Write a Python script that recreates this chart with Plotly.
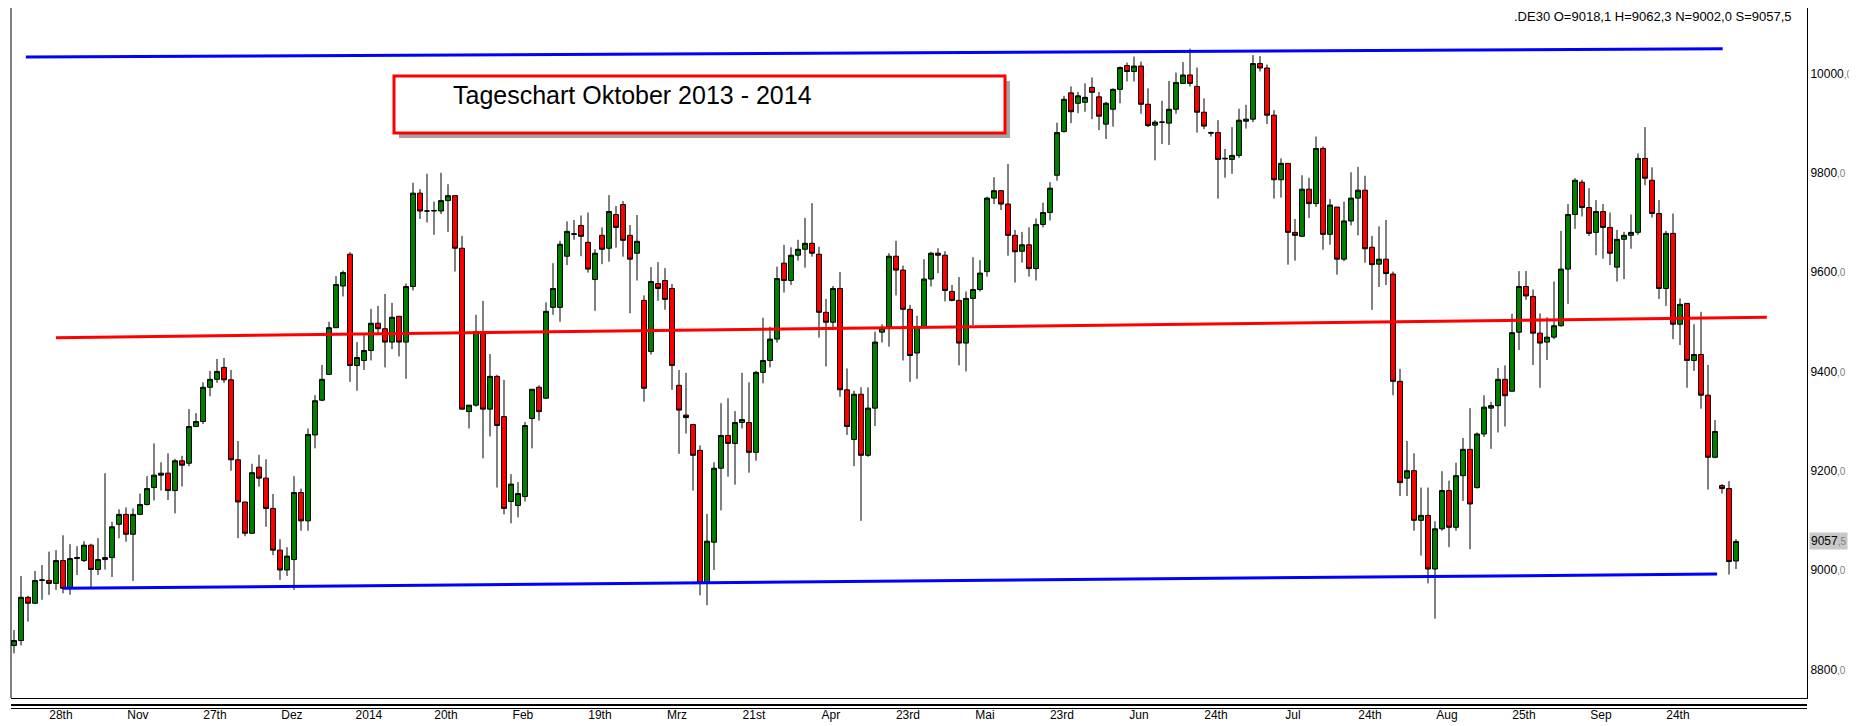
import plotly.graph_objects as go

# ---------------- data ----------------
opens = [8848, 8858, 8945, 8933, 8979, 8979, 8973, 9019, 8963, 9023,
         9019, 9050, 9001, 9021, 9025, 9092, 9112, 9072, 9112, 9132,
         9166, 9191, 9195, 9160, 9220, 9215, 9289, 9299, 9368, 9384,
         9408, 9383, 9222, 9137, 9074, 9207, 9185, 9124, 9040, 9000,
         9021, 9156, 9099, 9272, 9342, 9394, 9488, 9572, 9636, 9412,
         9422, 9442, 9497, 9486, 9459, 9511, 9459, 9571, 9759, 9723,
         9723, 9723, 9744, 9754, 9648, 9319, 9332, 9480, 9324, 9390,
         9309, 9138, 9130, 9148, 9305, 9368, 9346, 9529, 9529, 9632,
         9676, 9694, 9660, 9585, 9674, 9648, 9716, 9736, 9674, 9638,
         9543, 9440, 9577, 9583, 9567, 9372, 9312, 9293, 9241, 8973,
         9056, 9205, 9271, 9255, 9297, 9297, 9237, 9398, 9422, 9465,
         9618, 9583, 9634, 9646, 9658, 9636, 9519, 9499, 9567, 9363,
         9263, 9354, 9231, 9326, 9479, 9490, 9632, 9604, 9525, 9437,
         9490, 9586, 9638, 9634, 9561, 9543, 9457, 9547, 9565, 9601,
         9749, 9764, 9737, 9674, 9642, 9655, 9607, 9696, 9720, 9795,
         9883, 9961, 9940, 9942, 9972, 9953, 9898, 9928, 9968, 10016,
         10004, 10015, 9938, 9896, 9902, 9900, 9928, 9980, 9997, 9974,
         9922, 9881, 9881, 9828, 9827, 9835, 9904, 9908, 10020, 10011,
         9916, 9786, 9819, 9680, 9672, 9767, 9738, 9849, 9676, 9731,
         9626, 9703, 9749, 9765, 9650, 9616, 9626, 9596, 9380, 9185,
         9200, 9100, 9110, 9002, 9083, 9160, 9086, 9190, 9243, 9166,
         9274, 9326, 9331, 9384, 9360, 9479, 9571, 9551, 9477, 9459,
         9469, 9492, 9606, 9716, 9781, 9730, 9680, 9722, 9690, 9610,
         9666, 9674, 9680, 9829, 9785, 9718, 9567, 9678, 9495, 9537,
         9422, 9434, 9352, 9227, 9170, 9164, 9018.1]
highs = [8879, 8988, 8948, 8998, 9010, 9037, 9040, 9070, 9052, 9048,
         9058, 9053, 9064, 9195, 9097, 9122, 9126, 9124, 9154, 9189,
         9255, 9217, 9235, 9224, 9230, 9324, 9316, 9378, 9401, 9425,
         9427, 9403, 9260, 9137, 9214, 9232, 9223, 9153, 9062, 9046,
         9189, 9164, 9285, 9352, 9413, 9500, 9592, 9603, 9640, 9459,
         9473, 9526, 9532, 9556, 9538, 9511, 9577, 9780, 9767, 9798,
         9742, 9800, 9777, 9754, 9673, 9332, 9514, 9542, 9435, 9393,
         9383, 9193, 9177, 9298, 9364, 9372, 9539, 9618, 9663, 9702,
         9705, 9714, 9720, 9646, 9690, 9755, 9733, 9743, 9695, 9715,
         9553, 9610, 9620, 9608, 9576, 9403, 9397, 9293, 9251, 9113,
         9217, 9336, 9346, 9320, 9397, 9378, 9401, 9508, 9490, 9611,
         9655, 9650, 9665, 9709, 9739, 9651, 9546, 9572, 9600, 9406,
         9361, 9368, 9368, 9480, 9495, 9638, 9663, 9613, 9534, 9512,
         9626, 9641, 9648, 9642, 9574, 9590, 9561, 9630, 9624, 9752,
         9791, 9764, 9818, 9685, 9681, 9690, 9708, 9740, 9781, 9901,
         9955, 9974, 9963, 9980, 9992, 9963, 9943, 9970, 10014, 10022,
         10034, 10024, 9970, 9906, 9945, 9985, 10002, 10023, 10050, 10012,
         9950, 9883, 9906, 9848, 9892, 9929, 9937, 10037, 10035, 10018,
         9926, 9829, 9819, 9707, 9795, 9790, 9873, 9853, 9747, 9731,
         9742, 9801, 9812, 9794, 9673, 9692, 9705, 9601, 9405, 9260,
         9235, 9166, 9166, 9098, 9199, 9180, 9216, 9266, 9326, 9277,
         9352, 9339, 9407, 9412, 9516, 9602, 9602, 9565, 9517, 9509,
         9581, 9683, 9737, 9789, 9786, 9769, 9745, 9737, 9720, 9685,
         9681, 9716, 9839, 9892, 9811, 9745, 9683, 9718, 9547, 9537,
         9495, 9520, 9413, 9302, 9173, 9179, 9062.3]
lows = [8832, 8848, 8896, 8932, 8940, 8950, 8960, 8953, 8950, 8990,
        9016, 8966, 8990, 9001, 8986, 9064, 9057, 8978, 9112, 9130,
        9140, 9160, 9141, 9114, 9168, 9209, 9288, 9294, 9350, 9377,
        9377, 9200, 9064, 9068, 9073, 9168, 9087, 9030, 8980, 8988,
        8960, 9079, 9079, 9245, 9340, 9394, 9488, 9551, 9379, 9361,
        9403, 9422, 9473, 9408, 9445, 9430, 9385, 9563, 9707, 9700,
        9675, 9717, 9681, 9601, 9323, 9285, 9329, 9225, 9269, 9166,
        9112, 9094, 9106, 9138, 9245, 9301, 9345, 9514, 9500, 9614,
        9665, 9632, 9599, 9522, 9616, 9621, 9649, 9631, 9517, 9583,
        9339, 9434, 9542, 9524, 9363, 9234, 9275, 9160, 8949, 8929,
        9000, 9120, 9188, 9172, 9285, 9196, 9220, 9376, 9408, 9458,
        9559, 9574, 9623, 9609, 9631, 9468, 9410, 9483, 9349, 9272,
        9209, 9099, 9228, 9290, 9458, 9450, 9553, 9422, 9379, 9385,
        9490, 9571, 9598, 9541, 9541, 9412, 9400, 9493, 9561, 9591,
        9737, 9725, 9633, 9579, 9619, 9591, 9583, 9690, 9704, 9784,
        9881, 9900, 9920, 9923, 9908, 9886, 9868, 9893, 9940, 9984,
        9984, 9919, 9892, 9825, 9858, 9856, 9919, 9980, 9974, 9881,
        9888, 9873, 9748, 9790, 9798, 9830, 9889, 9902, 10004, 9898,
        9748, 9750, 9615, 9623, 9672, 9709, 9731, 9645, 9655, 9595,
        9622, 9694, 9674, 9619, 9524, 9570, 9574, 9352, 9149, 9149,
        9079, 9029, 8973, 8902, 9079, 9046, 9079, 9139, 9042, 9164,
        9268, 9244, 9277, 9289, 9360, 9443, 9544, 9413, 9367, 9423,
        9465, 9490, 9536, 9687, 9712, 9673, 9634, 9627, 9614, 9581,
        9586, 9647, 9675, 9775, 9710, 9546, 9532, 9465, 9453, 9367,
        9401, 9325, 9162, 9225, 9154, 8991, 9002.0]
closes = [8858, 8945, 8933, 8979, 8980, 8973, 9019, 8963, 9023, 9025,
          9050, 9001, 9021, 9025, 9087, 9112, 9072, 9112, 9132, 9164,
          9191, 9195, 9160, 9220, 9211, 9289, 9299, 9368, 9384, 9400,
          9383, 9222, 9137, 9074, 9196, 9185, 9124, 9040, 9000, 9028,
          9156, 9099, 9273, 9341, 9384, 9488, 9575, 9599, 9412, 9428,
          9442, 9497, 9486, 9459, 9509, 9459, 9571, 9759, 9723, 9723,
          9724, 9744, 9754, 9648, 9324, 9332, 9480, 9324, 9390, 9291,
          9124, 9173, 9154, 9291, 9364, 9319, 9521, 9567, 9656, 9682,
          9677, 9672, 9606, 9638, 9646, 9722, 9690, 9664, 9626, 9662,
          9366, 9581, 9567, 9545, 9412, 9322, 9307, 9231, 8973, 9058,
          9205, 9271, 9255, 9297, 9303, 9237, 9398, 9422, 9465, 9587,
          9583, 9634, 9646, 9658, 9638, 9519, 9499, 9567, 9363, 9289,
          9354, 9231, 9326, 9459, 9487, 9632, 9604, 9525, 9432, 9490,
          9586, 9638, 9634, 9563, 9543, 9457, 9547, 9565, 9598, 9749,
          9764, 9737, 9674, 9641, 9655, 9607, 9696, 9720, 9769, 9881,
          9948, 9923, 9955, 9952, 9962, 9914, 9940, 9968, 10012, 10004,
          10015, 9938, 9895, 9902, 9902, 9928, 9982, 9997, 9980, 9922,
          9894, 9880, 9827, 9829, 9835, 9906, 9908, 10020, 10011, 9916,
          9786, 9819, 9680, 9674, 9767, 9738, 9849, 9676, 9735, 9626,
          9703, 9749, 9765, 9647, 9615, 9626, 9597, 9380, 9176, 9200,
          9100, 9110, 9002, 9083, 9160, 9086, 9190, 9243, 9133, 9274,
          9328, 9331, 9384, 9351, 9478, 9571, 9552, 9477, 9457, 9469,
          9492, 9606, 9716, 9785, 9730, 9678, 9722, 9690, 9638, 9666,
          9674, 9680, 9829, 9789, 9718, 9567, 9678, 9495, 9535, 9422,
          9434, 9352, 9227, 9279, 9164, 9017, 9057.5]

x_tick_labels = ["28th", "Nov", "27th", "Dez", "2014", "20th", "Feb", "19th",
                 "Mrz", "21st", "Apr", "23rd", "Mai", "23rd", "Jun", "24th",
                 "Jul", "24th", "Aug", "25th", "Sep", "24th"]
y_tick_values = [8800, 9000, 9200, 9400, 9600, 9800, 10000]

# trend lines (bar index, price)
upper_line_x = [1.7, 244.1]
upper_line_y = [10033, 10050]
middle_line_x = [6.0, 250.4]
middle_line_y = [9468, 9509]
lower_line_x = [7.0, 243.3]
lower_line_y = [8963, 8992]

title_text = "Tageschart Oktober 2013 - 2014"
quote_text = ".DE30 O=9018,1 H=9062,3 N=9002,0 S=9057,5"
last_price = 9057.5

# ---------------- figure ----------------
# the page body adds an 8px margin; the figure is sized/positioned to compensate
OFF = 8
W, H = 1857 - OFF, 726 - OFF
ML, MR, MT, MB = 3, 50, 0, 28
PW, PH = W - ML - MR, H - MT - MB

bar_index = list(range(len(opens)))


def fmt_price(v, dec="0"):
    return f"{int(v)}<span style='color:#808080;font-size:10px'>,{dec}</span>"


fig = go.Figure()
fig.add_trace(go.Candlestick(
    x=bar_index, open=opens, high=highs, low=lows, close=closes,
    increasing=dict(fillcolor="#008000", line=dict(color="#000000", width=1)),
    decreasing=dict(fillcolor="#FF0000", line=dict(color="#000000", width=1)),
    whiskerwidth=0, showlegend=False, hoverinfo="skip",
))

fig.add_trace(go.Scatter(x=upper_line_x, y=upper_line_y, mode="lines",
                         line=dict(color="#0000FF", width=3), showlegend=False, hoverinfo="skip"))
fig.add_trace(go.Scatter(x=middle_line_x, y=middle_line_y, mode="lines",
                         line=dict(color="#FF0000", width=3), showlegend=False, hoverinfo="skip"))
fig.add_trace(go.Scatter(x=lower_line_x, y=lower_line_y, mode="lines",
                         line=dict(color="#0000FF", width=3), showlegend=False, hoverinfo="skip"))

px_per_bar = 7.0
x0 = -3.0 / px_per_bar
x1 = x0 + PW / px_per_bar
y_top = 10131.9
y_bot = 8742.2


def px_to_paper_x(page_px):
    return (page_px - OFF - ML) / PW


def px_to_paper_y(page_py):
    return 1 - (page_py - OFF - MT) / PH


shapes = []
# title box shadow and box
bx0, bx1, by0, by1 = 394, 1005, 76, 133
shapes.append(dict(type="rect", xref="paper", yref="paper",
                   x0=px_to_paper_x(bx0 + 5), x1=px_to_paper_x(bx1 + 5),
                   y0=px_to_paper_y(by1 + 5), y1=px_to_paper_y(by0 + 5),
                   fillcolor="rgba(90,90,90,0.55)", line=dict(width=0), layer="above"))
shapes.append(dict(type="rect", xref="paper", yref="paper",
                   x0=px_to_paper_x(bx0), x1=px_to_paper_x(bx1),
                   y0=px_to_paper_y(by1), y1=px_to_paper_y(by0),
                   fillcolor="#FFFFFF", line=dict(color="#FF0000", width=3), layer="above"))
# left frame line
shapes.append(dict(type="line", xref="paper", yref="paper", x0=0, x1=0, y0=0, y1=1,
                   line=dict(color="#000000", width=1)))
# double line under the plot frame
shapes.append(dict(type="line", xref="paper", yref="paper", x0=0, x1=1,
                   y0=px_to_paper_y(705), y1=px_to_paper_y(705),
                   line=dict(color="#000000", width=2)))
shapes.append(dict(type="line", xref="paper", yref="paper", x0=0, x1=1,
                   y0=px_to_paper_y(708.5), y1=px_to_paper_y(708.5),
                   line=dict(color="#000000", width=1)))

annotations = [
    dict(text=title_text, xref="paper", yref="paper",
         x=px_to_paper_x(632), y=px_to_paper_y(95), xanchor="center", yanchor="middle",
         showarrow=False, font=dict(family="Liberation Sans, Arial, sans-serif", size=25, color="#000000")),
    dict(text=quote_text, xref="paper", yref="paper",
         x=px_to_paper_x(1793), y=1, xanchor="right", yanchor="top", borderpad=0,
         showarrow=False, font=dict(family="Liberation Sans, Arial, sans-serif", size=13, color="#000000")),
    dict(text=fmt_price(last_price, "5"), xref="paper", yref="y",
         x=1, y=last_price, xanchor="left", yanchor="middle", xshift=2,
         showarrow=False, bgcolor="#C8C8C8", borderpad=1,
         font=dict(family="Liberation Sans, Arial, sans-serif", size=12, color="#000000")),
]

fig.update_layout(
    width=W, height=H,
    margin=dict(l=ML, r=MR, t=MT, b=MB, pad=0),
    paper_bgcolor="#FFFFFF", plot_bgcolor="#FFFFFF",
    boxgap=0, showlegend=False, hovermode=False,
    shapes=shapes, annotations=annotations,
    xaxis=dict(range=[x0, x1], rangeslider=dict(visible=False),
               tickmode="array",
               tickvals=[6.7 + 11 * k for k in range(len(x_tick_labels))],
               ticktext=x_tick_labels, ticks="", ticklabelstandoff=6,
               showgrid=False, zeroline=False,
               showline=True, linecolor="#000000", linewidth=1,
               tickfont=dict(family="Liberation Sans Narrow, Liberation Sans, Arial, sans-serif",
                             size=12, color="#000000")),
    yaxis=dict(range=[y_bot, y_top], side="right", tickmode="array",
               tickvals=y_tick_values, ticktext=[fmt_price(v) for v in y_tick_values],
               ticks="", showgrid=False, zeroline=False,
               showline=True, linecolor="#000000", linewidth=1,
               tickfont=dict(family="Liberation Sans, Arial, sans-serif", size=12, color="#000000")),
)

fig.write_html("out.html")
